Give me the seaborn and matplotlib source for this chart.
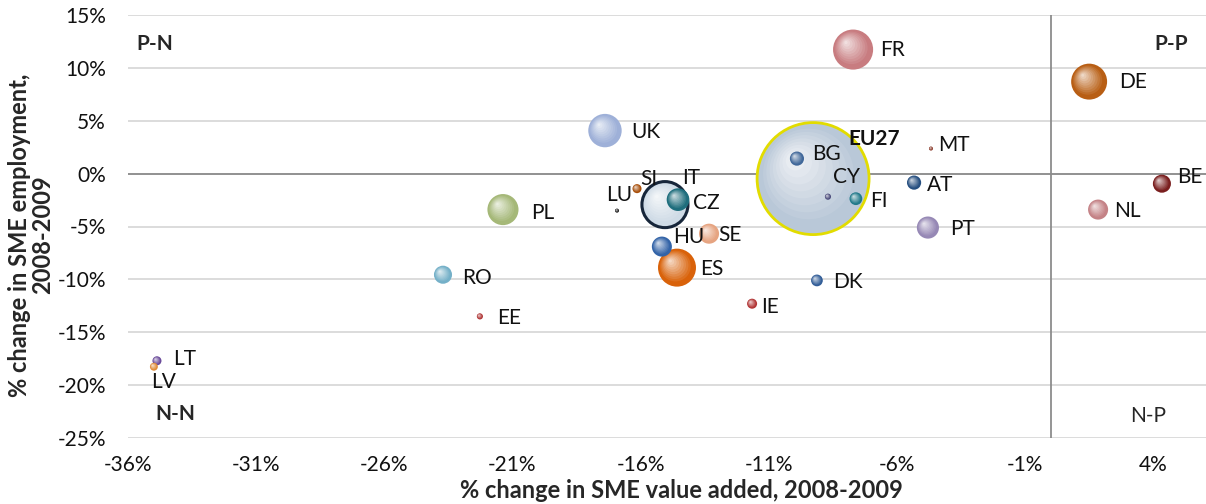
import pandas as pd
import seaborn as sns
import matplotlib.pyplot as plt
from matplotlib.path import Path
from matplotlib.markers import MarkerStyle
from matplotlib.colors import to_rgb

# data (percent change 2008-2009)
countries = ["EU27", "IT", "FR", "ES", "DE", "UK", "PL", "CZ", "PT", "HU", "SE", "NL", "BE",
             "RO", "BG", "AT", "FI", "DK", "IE", "SI", "LT", "LV", "CY", "EE", "MT", "LU"]
value_added = [-9.27, -15.05, -7.71, -14.58, 1.50, -17.39, -21.37, -14.54, -4.79, -15.17, -13.33, 1.85, 4.34,
               -23.71, -9.90, -5.33, -7.60, -9.12, -11.65, -16.14, -34.87, -34.99, -8.69, -22.27, -4.67, -16.92]
employment = [-0.47, -2.93, 11.73, -8.89, 8.70, 4.07, -3.40, -2.46, -5.10, -6.90, -5.68, -3.40, -0.95,
              -9.56, 1.42, -0.85, -2.37, -10.10, -12.30, -1.42, -17.70, -18.26, -2.18, -13.50, 2.37, -3.50]
# relative bubble area (EU27 = 100)
bubble = [100, 16.9, 12.8, 11.5, 10.3, 8.9, 7.7, 4.1, 3.9, 3.2, 3.2, 3.2, 2.6,
          2.6, 1.6, 1.6, 1.3, 1.1, 0.8, 0.65, 0.65, 0.5, 0.3, 0.3, 0.13, 0.13]

x_ticks = [-36, -31, -26, -21, -16, -11, -6, -1, 4]
y_ticks = [-25, -20, -15, -10, -5, 0, 5, 10, 15]

colors = {
    "EU27": "#b9c8d8", "IT": "#cfdbe6", "FR": "#c87c80", "ES": "#d9620a", "DE": "#b85e14",
    "UK": "#9eb0d8", "PL": "#a5b878", "CZ": "#1f6e7d", "PT": "#9688b5", "HU": "#3364a8",
    "SE": "#e6a481", "NL": "#c48286", "BE": "#7a1f1f", "RO": "#74b0c8", "BG": "#41689a",
    "AT": "#264f80", "FI": "#21798a", "DK": "#335e98", "IE": "#b23636", "SI": "#a84f0a",
    "LT": "#6a4a9a", "LV": "#e08a35", "CY": "#4a4a7a", "EE": "#b03535", "MT": "#8b3a2a",
    "LU": "#1e1e1e",
}
rims = {"EU27": ("#e2dc00", 2.0), "IT": ("#17263a", 2.2)}

# label offsets in pixels (right, down) from bubble centre
label_offsets = {
    "EU27": (35, -40), "IT": (17, -27), "FR": (27, 0), "ES": (23, 1), "DE": (30, 0),
    "UK": (26, 1), "PL": (28, 3), "CZ": (15, 3), "PT": (22, 1), "HU": (11, -10),
    "SE": (9, 1), "NL": (16, 1), "BE": (15, -7), "RO": (19, 3), "BG": (15, -5),
    "AT": (13, 2), "FI": (14, 2), "DK": (16, 2), "IE": (9, 3), "SI": (3, -10),
    "LT": (16, -2), "LV": (-3, 15), "CY": (5, -20), "EE": (17, 2), "MT": (7, -4),
    "LU": (-11, -16),
}

df = pd.DataFrame({"country": countries, "va": value_added, "emp": employment, "bubble": bubble})

sns.set_style("white")
plt.rcParams["font.family"] = ["Lato", "DejaVu Sans"]

W, H = 1206, 504
fig = plt.figure(figsize=(W / 100, H / 100), dpi=100)
ax = fig.add_axes([128 / W, 66 / H, 1078 / W, 423 / H])

PX = 0.72  # points per pixel
r_max = 56  # EU27 radius in px
s_max = (2 * r_max * PX) ** 2
norm = (0, 100)
FS = 15


def mix(c, amount):
    r, g, b = to_rgb(c)
    return (r + (1 - r) * amount, g + (1 - g) * amount, b + (1 - b) * amount)


# shading layers: (radius frac, offset frac, lighten, alpha)
n_layers = 9
layers = []
for k in range(n_layers):
    t = (k + 1) / n_layers
    layers.append((0.9 - 0.82 * t, 0.05 + 0.30 * t, 0.08 + 0.75 * t, 0.55))

for i, row in df.iterrows():
    one = df.iloc[[i]]
    base = colors[row.country]
    z = 3 + i * 0.1
    sns.scatterplot(data=one, x="va", y="emp", size="bubble", size_norm=norm, sizes=(0, s_max),
                    color=base, edgecolor="none", linewidth=0, legend=False, ax=ax, zorder=z)
    for k, (f, o, light, a) in enumerate(layers):
        m = o + f
        mk = MarkerStyle(Path.circle(center=(-o, o), radius=f))
        sns.scatterplot(data=one, x="va", y="emp", size="bubble", size_norm=norm,
                        sizes=(0, s_max * m ** 2), marker=mk, color=mix(base, light), alpha=a,
                        edgecolor="none", linewidth=0, legend=False, ax=ax, zorder=z + 0.005 * (k + 1))
    if row.country in rims:
        ec, lw = rims[row.country]
        sns.scatterplot(data=one, x="va", y="emp", size="bubble", size_norm=norm, sizes=(0, s_max),
                        facecolor="none", edgecolor=ec, linewidth=lw, legend=False, ax=ax, zorder=z + 0.09)
    dx, dy = label_offsets[row.country]
    ax.annotate(row.country, (row.va, row.emp), xytext=(dx * PX, -dy * PX), textcoords="offset points",
                ha="left", va="center", fontsize=FS, color="#111111", zorder=20,
                fontweight="bold" if row.country == "EU27" else "normal")

ax.set_xlim(-36, -36 + 1078 / 25.63)
ax.set_ylim(-25, 15)
ax.set_xticks(x_ticks)
ax.set_yticks(y_ticks)
ax.set_xticklabels([f"{t}%" for t in x_ticks])
ax.set_yticklabels([f"{t}%" for t in y_ticks])
ax.tick_params(length=0, labelsize=FS, colors="#111111")
ax.tick_params(axis="x", pad=12)
ax.tick_params(axis="y", pad=16)
ax.grid(axis="y", color="#d9d9d9", linewidth=1.3, zorder=0)
ax.grid(axis="x", visible=False)
ax.axhline(0, color="#8c8c8c", linewidth=1.3, zorder=1)
ax.axvline(0, color="#8c8c8c", linewidth=1.3, zorder=1)
ax.set_axisbelow(True)
for sp in ax.spines.values():
    sp.set_visible(False)
ax.set_xlabel("")
ax.set_ylabel("")

# quadrant labels
ax.text(0.0074, 0.931, "P-N", transform=ax.transAxes, fontsize=FS, fontweight="bold", va="center")
ax.text(0.952, 0.931, "P-P", transform=ax.transAxes, fontsize=FS, fontweight="bold", va="center")
ax.text(0.025, 0.057, "N-N", transform=ax.transAxes, fontsize=FS, fontweight="bold", va="center")
ax.text(0.930, 0.052, "N-P", transform=ax.transAxes, fontsize=FS, va="center")

fig.text(681 / W, 1 - 490 / H, "% change in SME value added, 2008-2009", ha="center", va="center",
         fontsize=17, fontweight="bold")
fig.text(31 / W, 1 - 235 / H, "% change in SME employment,\n2008-2009", ha="center", va="center",
         rotation=90, fontsize=17, fontweight="bold", linespacing=1.0)

fig.savefig("out.png", dpi=100)
